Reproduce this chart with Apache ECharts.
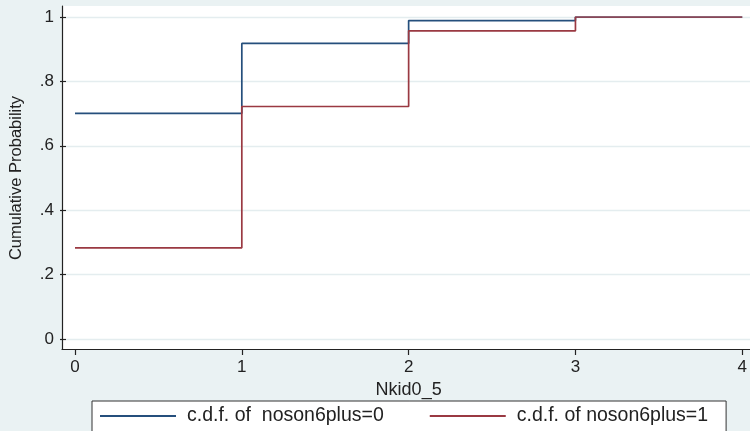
<!DOCTYPE html>
<html>
<head>
<meta charset="utf-8">
<script src="https://cdn.jsdelivr.net/npm/echarts@6/dist/echarts.min.js"></script>
<style>
  html, body { margin: 0; padding: 0; background: #eaf2f3; }
  #chart { width: 750px; height: 431px; }
</style>
</head>
<body>
<div id="chart"></div>
<script>
const kids = [0, 1, 2, 3, 4];
const cdfNoSon0 = [0.701, 0.918, 0.989, 1.0, 1.0];
const cdfNoSon1 = [0.283, 0.722, 0.957, 1.0, 1.0];
const yTickLabels = ['0', '.2', '.4', '.6', '.8', '1'];
const seriesNames = ['c.d.f. of  noson6plus=0', 'c.d.f. of noson6plus=1'];

const FONT = "'Liberation Sans', Arial, sans-serif";
const INK = '#222';

const chart = echarts.init(document.getElementById('chart'));

chart.setOption({
  animation: false,
  backgroundColor: '#eaf2f3',
  textStyle: { fontFamily: FONT },
  grid: [
    // plot region frame
    { left: 62, right: 0, top: 6, bottom: 82, show: true, backgroundColor: '#fff', borderWidth: 0 },
    // y gridlines, ticks, labels
    { left: 62, right: 0, top: 17, bottom: 92 },
    // data
    { left: 75, right: 4, top: 17, bottom: 92 },
  ],
  xAxis: [
    {
      gridIndex: 0, type: 'value', min: 0, max: 1,
      axisLine: { show: true, onZero: false, lineStyle: { color: INK, width: 1.2 } },
      axisTick: { show: false }, axisLabel: { show: false }, splitLine: { show: false },
    },
    { gridIndex: 1, type: 'value', min: 0, max: 1, show: false },
    {
      gridIndex: 2, type: 'value', min: 0, max: 4, interval: 1, offset: 10,
      name: 'Nkid0_5', nameLocation: 'middle', nameGap: 24,
      nameTextStyle: { color: INK, fontSize: 18, fontFamily: FONT },
      axisLine: { show: false, onZero: false },
      axisTick: { show: true, length: 6, lineStyle: { color: INK, width: 1.2 } },
      axisLabel: { color: INK, fontSize: 17, margin: 10, fontFamily: FONT },
      splitLine: { show: false },
    },
  ],
  yAxis: [
    {
      gridIndex: 0, type: 'value', min: 0, max: 1,
      axisLine: { show: true, onZero: false, lineStyle: { color: INK, width: 1.2 } },
      axisTick: { show: false }, axisLabel: { show: false }, splitLine: { show: false },
    },
    {
      gridIndex: 1, type: 'value', min: 0, max: 1, interval: 0.2,
      name: 'Cumulative Probability', nameLocation: 'middle', nameGap: 41,
      nameTextStyle: { color: INK, fontSize: 16.5, fontFamily: FONT },
      axisLine: { show: false, onZero: false },
      axisTick: { show: true, length: 6, lineStyle: { color: INK, width: 1.2 } },
      axisLabel: {
        color: INK, fontSize: 17, margin: 12, fontFamily: FONT,
        formatter: (v) => yTickLabels[Math.round(v / 0.2)],
      },
      splitLine: { show: true, lineStyle: { color: '#e4edef', width: 1.3 } },
    },
    { gridIndex: 2, type: 'value', min: 0, max: 1, show: false },
  ],
  legend: {
    left: 92, top: 401,
    orient: 'horizontal',
    backgroundColor: '#fff',
    borderColor: '#333', borderWidth: 1, borderRadius: 0,
    padding: [4, 18, 12, 8],
    itemGap: 46,
    itemWidth: 76, itemHeight: 2,
    icon: 'rect',
    textStyle: { color: INK, fontSize: 19.5, fontFamily: FONT, lineHeight: 22, padding: [0, 0, 0, 6] },
    data: seriesNames,
  },
  series: [
    {
      name: seriesNames[0], type: 'line', step: 'end',
      xAxisIndex: 2, yAxisIndex: 2,
      showSymbol: false,
      color: '#254f7c',
      lineStyle: { color: '#254f7c', width: 1.7 },
      data: kids.map((k, i) => [k, cdfNoSon0[i]]),
    },
    {
      name: seriesNames[1], type: 'line', step: 'end',
      xAxisIndex: 2, yAxisIndex: 2,
      showSymbol: false,
      color: '#9a3942',
      lineStyle: { color: '#9a3942', width: 1.7 },
      data: kids.map((k, i) => [k, cdfNoSon1[i]]),
    },
  ],
});
</script>
</body>
</html>
